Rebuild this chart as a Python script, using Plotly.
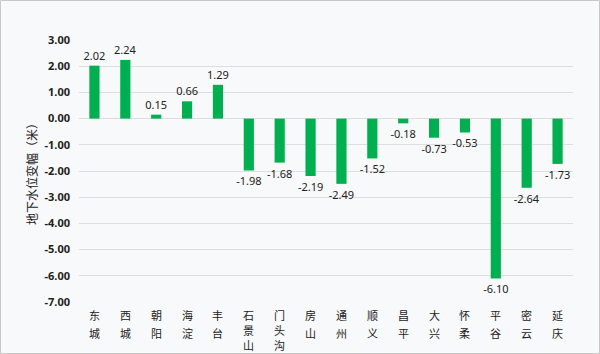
import plotly.graph_objects as go

districts = ["东城", "西城", "朝阳", "海淀", "丰台", "石景山", "门头沟", "房山", "通州",
             "顺义", "昌平", "大兴", "怀柔", "平谷", "密云", "延庆"]
changes = [2.02, 2.24, 0.15, 0.66, 1.29, -1.98, -1.68, -2.19, -2.49,
           -1.52, -0.18, -0.73, -0.53, -6.10, -2.64, -1.73]
y_ticks = [3, 2, 1, 0, -1, -2, -3, -4, -5, -6, -7]
y_title = "地下水位变幅（米）"

fig = go.Figure()
fig.add_trace(go.Bar(
    x=districts, y=changes,
    marker=dict(color="#00b050", line=dict(width=0)),
    text=[f"{v:.2f}" for v in changes],
    textposition="outside",
    constraintext="none",
    textfont=dict(family="Noto Sans, sans-serif", size=11, color="#222222"),
    cliponaxis=False,
    width=0.33,
))

# vertical category labels, one character per line
annotations = []
for d in districts:
    step = 18 if len(d) == 2 else 15
    for i, ch in enumerate(d):
        annotations.append(dict(
            x=d, xref="x", y=0, yref="paper", text=ch, showarrow=False,
            xanchor="center", yanchor="middle", yshift=-(12.5 + i * step),
            borderpad=0, borderwidth=0,
            font=dict(family="Noto Sans CJK SC", size=11, color="#222222"),
        ))

L, R, T, B = 79, 27, 40, 52
W, H = 600, 354
pw, ph = W - L - R, H - T - B

fig.update_layout(
    width=W, height=H,
    margin=dict(l=L, r=R, t=T, b=B),
    paper_bgcolor="#f8f9fa",
    plot_bgcolor="#f8f9fa",
    showlegend=False,
    annotations=annotations,
    xaxis=dict(
        showticklabels=False,
        showgrid=False, showline=False, ticks="",
        automargin=False,
    ),
    yaxis=dict(
        range=[-7, 3], tickvals=y_ticks,
        ticktext=[f"{v:.2f}" for v in y_ticks],
        tickfont=dict(family="Noto Sans, sans-serif", size=11, color="#222222", weight="bold"),
        showgrid=True, gridcolor="#dedede", gridwidth=1,
        zeroline=True, zerolinecolor="#dedede", zerolinewidth=1,
        ticklabelstandoff=8,
        automargin=False,
        title=dict(text=y_title, font=dict(family="Noto Sans CJK SC", size=12, color="#222222"), standoff=4),
    ),
    shapes=[dict(
        type="rect", xref="paper", yref="paper",
        x0=(0.5 - L) / pw, x1=(599.5 - L) / pw,
        y0=(H - B - 353.5) / ph, y1=(H - B - 0.5) / ph,
        line=dict(color="#c8c8c8", width=1), fillcolor="rgba(0,0,0,0)", layer="below",
    )],
)

fig.write_html("out.html")
